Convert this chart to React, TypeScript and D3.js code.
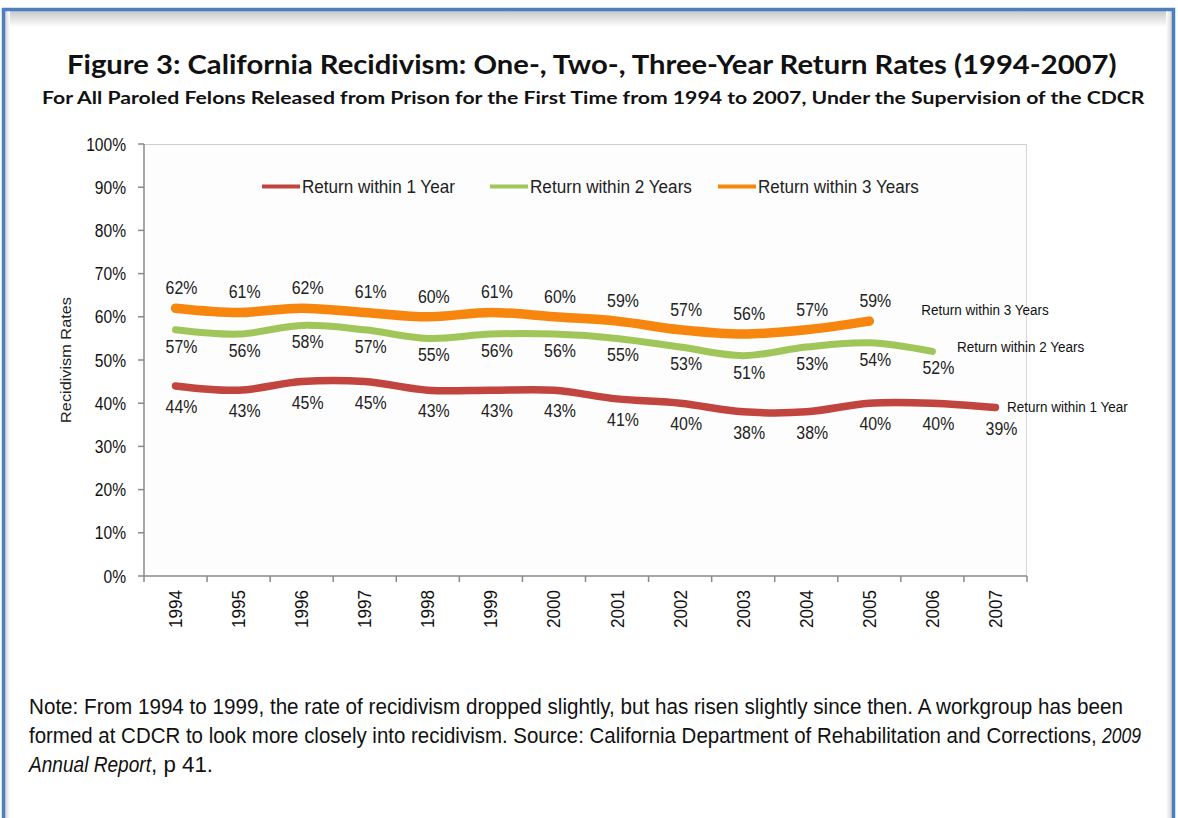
import React, { useLayoutEffect, useRef, useState } from 'react';
import * as d3 from 'd3';

// ---------- data ----------
const years = ['1994', '1995', '1996', '1997', '1998', '1999', '2000', '2001', '2002', '2003', '2004', '2005', '2006', '2007'];
const returnOneYear = [44, 43, 45, 45, 43, 43, 43, 41, 40, 38, 38, 40, 40, 39];
const returnTwoYears = [57, 56, 58, 57, 55, 56, 56, 55, 53, 51, 53, 54, 52];
const returnThreeYears = [62, 61, 62, 61, 60, 61, 60, 59, 57, 56, 57, 59];
const yTicks = [0, 10, 20, 30, 40, 50, 60, 70, 80, 90, 100];
const seriesNames = ['Return within 1 Year', 'Return within 2 Years', 'Return within 3 Years'];

const titleText = 'Figure 3: California Recidivism: One-, Two-, Three-Year Return Rates (1994-2007)';
const subtitleText = 'For All Paroled Felons Released from Prison for the First Time from 1994 to 2007, Under the Supervision of the CDCR';
const yAxisTitle = 'Recidivism Rates';
const noteLine1 = 'Note: From 1994 to 1999, the rate of recidivism dropped slightly, but has risen slightly since then. A workgroup has been';
const noteLine2a = 'formed at CDCR to look more closely into recidivism. Source: California Department of Rehabilitation and Corrections,';
const noteLine2b = '2009';
const noteLine3a = 'Annual Report';
const noteLine3b = ', p 41.';

// ---------- styling ----------
const W = 1178;
const H = 818;
const plot = { left: 144, right: 1027, top: 144, bottom: 576 };
const NARROW = '"Liberation Sans", Arial, sans-serif';
const TITLE_FONT = 'Lato, "Open Sans", sans-serif';

const series = [
  { name: seriesNames[2], values: returnThreeYears, color: '#f7860f', width: 9.5, labelDy: -14, legendX: 718, endDx: 52, endDy: -6 },
  { name: seriesNames[1], values: returnTwoYears, color: '#a0c65a', width: 7, labelDy: 23, legendX: 490, endDx: 24.5, endDy: 0.5 },
  { name: seriesNames[0], values: returnOneYear, color: '#c2443f', width: 7.5, labelDy: 27, legendX: 262, endDx: 11.5, endDy: 4.5 },
];
const legendTextWidths: Record<string, number> = {
  [seriesNames[0]]: 153,
  [seriesNames[1]]: 162,
  [seriesNames[2]]: 161,
};

type FitProps = {
  x: number;
  y: number;
  width: number;
  rotate?: number;
  anchor?: 'start' | 'middle' | 'end';
  children: React.ReactNode;
  [k: string]: any;
};

// Text whose horizontal size is scaled so that it spans `width` pixels.
function FitText({ x, y, width, rotate = 0, anchor = 'start', children, ...rest }: FitProps) {
  const ref = useRef<SVGTextElement>(null);
  const [s, setS] = useState(1);
  useLayoutEffect(() => {
    if (ref.current) {
      const w = ref.current.getComputedTextLength();
      if (w > 0) setS(width / w);
    }
  }, [width]);
  return (
    <text
      ref={ref}
      transform={`translate(${x},${y})${rotate ? ` rotate(${rotate})` : ''} scale(${s},1)`}
      textAnchor={anchor}
      {...rest}
    >
      {children}
    </text>
  );
}

export default function App() {
  const x = d3.scaleBand<string>().domain(years).range([plot.left, plot.right]).padding(0);
  const y = d3.scaleLinear().domain([0, 100]).range([plot.bottom, plot.top]);
  const cx = (i: number) => (x(years[i]) as number) + x.bandwidth() / 2;

  const line = d3
    .line<number>()
    .x((_, i) => cx(i))
    .y((d) => y(d))
    .curve(d3.curveCatmullRom.alpha(0.5));

  const tickEdges = years.map((yr) => x(yr) as number).concat([plot.right]);

  return (
    <svg
      width={W}
      height={H}
      viewBox={`0 0 ${W} ${H}`}
      style={{ position: 'absolute', left: 0, top: 0, display: 'block', background: '#fff' }}
    >
      <defs>
        <linearGradient id="topShadow" x1="0" y1="0" x2="0" y2="1">
          <stop offset="0" stopColor="#c9c9c9" />
          <stop offset="1" stopColor="#ffffff" />
        </linearGradient>
        <linearGradient id="leftShadow" x1="0" y1="0" x2="1" y2="0">
          <stop offset="0" stopColor="#d4d4d4" />
          <stop offset="1" stopColor="#ffffff" />
        </linearGradient>
        <linearGradient id="rightShadow" x1="1" y1="0" x2="0" y2="0">
          <stop offset="0" stopColor="#d4d4d4" />
          <stop offset="1" stopColor="#ffffff" />
        </linearGradient>
      </defs>

      {/* frame */}
      <rect x={5} y={11} width={1167} height={16} fill="url(#topShadow)" />
      <rect x={5} y={11} width={5} height={H} fill="url(#leftShadow)" />
      <rect x={1166} y={11} width={6} height={H} fill="url(#rightShadow)" />
      <path d={`M3.5,${H + 5} V9.5 H1173.5 V${H + 5}`} fill="none" stroke="#4d7fc0" strokeWidth={3.5} />

      {/* titles */}
      <FitText x={67} y={74} width={1050} fontFamily={TITLE_FONT} fontWeight={700} fontSize={26} fill="#111">
        {titleText}
      </FitText>
      <FitText x={42} y={103.5} width={1103} fontFamily={TITLE_FONT} fontWeight={700} fontSize={17} fill="#111">
        {subtitleText}
      </FitText>

      {/* plot frame */}
      <rect x={plot.left} y={plot.top} width={plot.right - plot.left} height={plot.bottom - plot.top} fill="#fdfdfd" />
      <line x1={plot.left} x2={plot.right} y1={plot.top + 0.5} y2={plot.top + 0.5} stroke="#cfcfcf" strokeWidth={1} />
      <line x1={plot.right - 0.5} x2={plot.right - 0.5} y1={plot.top} y2={plot.bottom} stroke="#d8d8d8" strokeWidth={1} />

      {/* y axis */}
      <line x1={plot.left} x2={plot.left} y1={plot.top} y2={plot.bottom} stroke="#8a8a8a" strokeWidth={1.5} />
      {yTicks.map((t) => (
        <g key={t}>
          <line x1={plot.left - 6} x2={plot.left} y1={y(t)} y2={y(t)} stroke="#8a8a8a" strokeWidth={1.5} />
          <text
            transform={`translate(${126},${y(t) + 6.5}) scale(0.82,1)`}
            textAnchor="end"
            fontFamily={NARROW}
            fontSize={19}
            fill="#111"
          >
            {`${t}%`}
          </text>
        </g>
      ))}
      <FitText x={71} y={360} rotate={-90} width={126} anchor="middle" fontFamily={NARROW} fontSize={14.5} fill="#222">
        {yAxisTitle}
      </FitText>

      {/* x axis */}
      <line x1={plot.left} x2={plot.right} y1={plot.bottom} y2={plot.bottom} stroke="#8a8a8a" strokeWidth={1.5} />
      {tickEdges.map((tx, i) => (
        <line key={i} x1={tx} x2={tx} y1={plot.bottom} y2={plot.bottom + 6} stroke="#8a8a8a" strokeWidth={1.5} />
      ))}
      {years.map((yr, i) => (
        <text
          key={yr}
          transform={`translate(${cx(i) + 6.5},${590}) rotate(-90) scale(0.9,1)`}
          textAnchor="end"
          fontFamily={NARROW}
          fontSize={19}
          fill="#111"
        >
          {yr}
        </text>
      ))}

      {/* legend */}
      {series
        .slice()
        .reverse()
        .map((s) => (
          <g key={s.name}>
            <line x1={s.legendX} x2={s.legendX + 38} y1={186.5} y2={186.5} stroke={s.color} strokeWidth={4} />
            <FitText
              x={s.legendX + 40}
              y={193}
              width={legendTextWidths[s.name]}
              fontFamily={NARROW}
              fontSize={17.5}
              fill="#222"
            >
              {s.name}
            </FitText>
          </g>
        ))}

      {/* lines */}
      {series.map((s) => (
        <path
          key={s.name}
          d={line(s.values) as string}
          fill="none"
          stroke={s.color}
          strokeWidth={s.width}
          strokeLinecap="round"
          strokeLinejoin="round"
        />
      ))}

      {/* data labels */}
      {series.map((s) =>
        s.values.map((v, i) => (
          <text
            key={`${s.name}-${i}`}
            transform={`translate(${cx(i) + 6},${y(v) + s.labelDy}) scale(0.86,1)`}
            textAnchor="middle"
            fontFamily={NARROW}
            fontSize={18.5}
            fill="#222"
          >
            {`${v}%`}
          </text>
        ))
      )}

      {/* end-of-line series labels */}
      {series.map((s) => {
        const last = s.values.length - 1;
        return (
          <text
            key={`end-${s.name}`}
            transform={`translate(${cx(last) + s.endDx},${y(s.values[last]) + s.endDy}) scale(0.93,1)`}
            fontFamily={NARROW}
            fontSize={14.5}
            fill="#111"
          >
            {s.name}
          </text>
        );
      })}

      {/* note */}
      <g fontFamily={NARROW} fontSize={22.5} fill="#111">
        <FitText x={29} y={714} width={1095}>
          {noteLine1}
        </FitText>
        <FitText x={29} y={743} width={1068}>
          {noteLine2a}
        </FitText>
        <FitText x={1102} y={743} width={39} fontStyle="italic">
          {noteLine2b}
        </FitText>
        <FitText x={29} y={772} width={122} fontStyle="italic">
          {noteLine3a}
        </FitText>
        <FitText x={151} y={772} width={62}>
          {noteLine3b}
        </FitText>
      </g>
    </svg>
  );
}
